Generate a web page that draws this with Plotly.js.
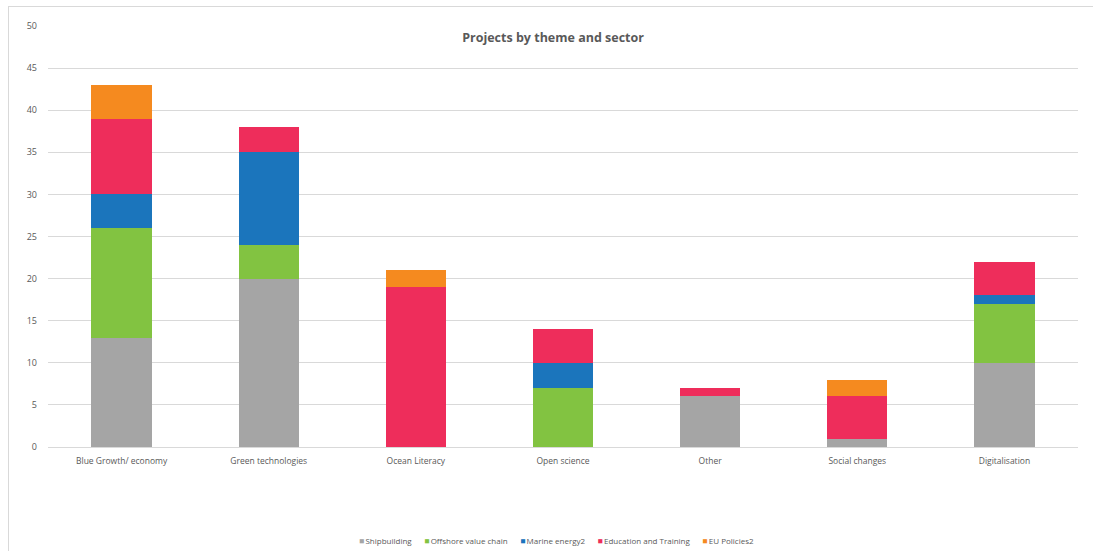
<!DOCTYPE html>
<html><head><meta charset="utf-8">
<script src="https://cdn.plot.ly/plotly-3.0.1.min.js"></script>
<style>
html,body{margin:0;padding:0;background:#fff;overflow:hidden;}
#frame{position:absolute;left:8px;top:6px;width:1200px;height:700px;border-top:1px solid #d9d9d9;border-left:1px solid #d9d9d9;}
#chart{position:absolute;left:0;top:0;width:1093px;height:551px;}
</style></head>
<body>
<div id="frame"></div>
<div id="chart"></div>
<script>
const categories = ["Blue Growth/ economy","Green technologies","Ocean Literacy","Open science","Other","Social changes","Digitalisation"];
const shipbuilding = [13,20,0,0,6,1,10];
const offshore = [13,4,0,7,0,0,7];
const marineEnergy = [4,11,0,3,0,0,1];
const education = [9,3,19,4,1,5,4];
const euPolicies = [4,0,2,0,0,2,0];
const seriesNames = ["Shipbuilding","Offshore value chain","Marine energy2","Education and Training","EU Policies2"];
const colors = ["#A5A5A5","#82C341","#1B75BC","#EE2D5B","#F58A1F"];
const allSeries = [shipbuilding, offshore, marineEnergy, education, euPolicies];

const traces = allSeries.map((vals,i)=>({
  type:'bar', name:seriesNames[i], x:categories, y:vals,
  marker:{color:colors[i]}, hoverinfo:'x+y+name'
}));

// compact legend (Excel style): small square + name
const gap = '&nbsp;&nbsp;&nbsp;&nbsp;&nbsp;&nbsp;';
const legendText = seriesNames.map((n,i)=>
  '<span style="color:'+colors[i]+';font-size:8.5px">■</span>&#8201;'+n).join(gap);

const layout = {
  width:1093, height:551,
  barmode:'stack', bargap:0.59,
  paper_bgcolor:'rgba(0,0,0,0)', plot_bgcolor:'rgba(0,0,0,0)',
  margin:{l:48,r:15,t:26,b:104, autoexpand:false},
  font:{family:'"Liberation Sans Narrow","Open Sans",Arial,sans-serif', size:9, color:'#595959'},
  title:{text:'Projects by theme and sector', x:0.506, xanchor:'center', y:0.932, yanchor:'middle',
    font:{family:'"Open Sans",Arial,sans-serif', size:12.5, color:'#595959', weight:'bold'}},
  xaxis:{showgrid:false, showline:true, linecolor:'#d9d9d9', linewidth:1, ticks:'', ticklabelstandoff:6, tickfont:{size:8.5,color:'#595959'}, fixedrange:true, automargin:false},
  yaxis:{range:[0,50], dtick:5, showgrid:true, gridcolor:'#d9d9d9', gridwidth:1, zeroline:false, showline:false, ticks:'', ticklabelstandoff:10, tickfont:{size:9,color:'#595959'}, fixedrange:true, automargin:false},
  showlegend:false,
  annotations:[{
    text:legendText, xref:'paper', yref:'paper', x:0.494, y:-0.221,
    xanchor:'center', yanchor:'middle', showarrow:false,
    font:{size:8, color:'#595959'}
  }]
};
Plotly.newPlot('chart', traces, layout, {displayModeBar:false, staticPlot:true});
</script>
</body></html>
